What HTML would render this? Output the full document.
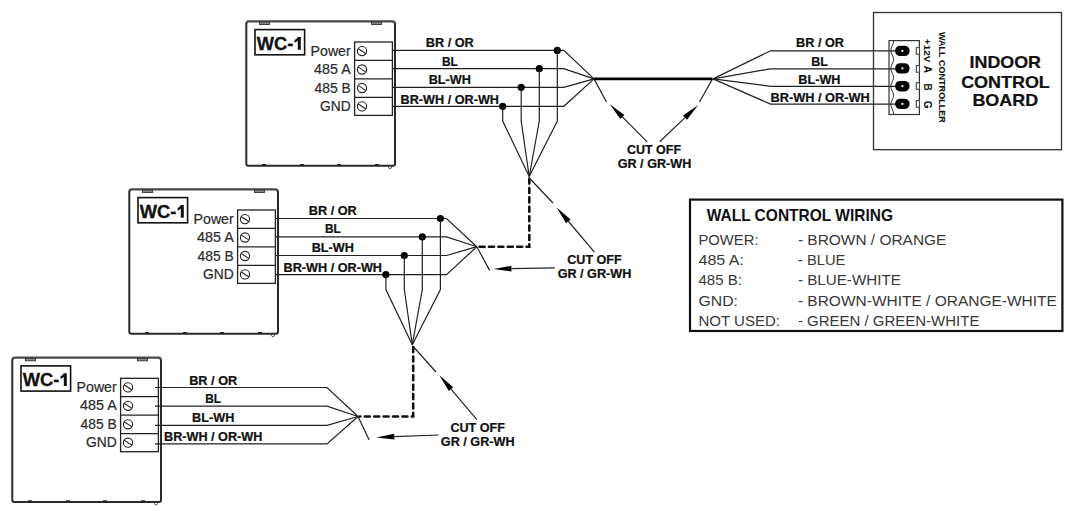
<!DOCTYPE html>
<html><head><meta charset="utf-8"><style>
html,body{margin:0;padding:0;background:#fff;width:1078px;height:511px;overflow:hidden}
svg{display:block}
text{font-family:"Liberation Sans",sans-serif}
</style></head><body>
<svg width="1078" height="511" viewBox="0 0 1078 511">
<g transform="translate(0,0)">
<path d="M246.3,24 Q246.3,21.3 249,21.3 L392.3,21.3 Q395,21.3 395,24" fill="none" stroke="#4a4a4a" stroke-width="2.3"/>
<path d="M246.3,23.5 L246.3,163.8 Q246.3,165.8 248.3,165.8 L393,165.8 Q395,165.8 395,163.8 L395,23.5" fill="none" stroke="#2a2a2a" stroke-width="2"/>
<rect x="259.4" y="22" width="10.2" height="2.5" fill="#888" stroke="#333" stroke-width="0.9"/>
<rect x="371.4" y="22" width="10.2" height="2.5" fill="#888" stroke="#333" stroke-width="0.9"/>
<rect x="262" y="164" width="4" height="2" fill="#222"/>
<rect x="300" y="164" width="4" height="2" fill="#222"/>
<rect x="337" y="164" width="4" height="2" fill="#222"/>
<rect x="375" y="164" width="4" height="2" fill="#222"/>
<circle cx="390" cy="167" r="1.6" fill="none" stroke="#333" stroke-width="0.8"/>
<rect x="255" y="29.6" width="49.6" height="25.2" fill="none" stroke="#111" stroke-width="1.6"/>
<text x="256.7" y="49.7" font-size="17.5" font-weight="bold" fill="#111" stroke="#111" stroke-width="0.3" textLength="36.6" lengthAdjust="spacingAndGlyphs">WC-</text>
<path d="M297.8,36.9 L300.8,36.9 L300.8,49.7 L297.8,49.7 L297.8,40.8 Q296.5,42 294.6,42.7 L294.6,40 Q297,38.9 297.8,36.9 Z" fill="#111"/>
<text x="350.7" y="55.9" font-size="14" fill="#2a2a2a" stroke="#2a2a2a" stroke-width="0.2" text-anchor="end" textLength="40.1" lengthAdjust="spacingAndGlyphs">Power</text>
<text x="350.7" y="73.6" font-size="14" fill="#2a2a2a" stroke="#2a2a2a" stroke-width="0.2" text-anchor="end" textLength="36.6" lengthAdjust="spacingAndGlyphs">485 A</text>
<text x="350.7" y="92.6" font-size="14" fill="#2a2a2a" stroke="#2a2a2a" stroke-width="0.2" text-anchor="end" textLength="36.1" lengthAdjust="spacingAndGlyphs">485 B</text>
<text x="350.7" y="110.6" font-size="14" fill="#2a2a2a" stroke="#2a2a2a" stroke-width="0.2" text-anchor="end" textLength="30.8" lengthAdjust="spacingAndGlyphs">GND</text>
<rect x="354.6" y="42" width="37.8" height="73.4" fill="none" stroke="#222" stroke-width="1.3"/>
<line x1="354.6" y1="60.3" x2="392.4" y2="60.3" stroke="#222" stroke-width="1.3"/>
<line x1="354.6" y1="78.8" x2="392.4" y2="78.8" stroke="#222" stroke-width="1.3"/>
<line x1="354.6" y1="97.3" x2="392.4" y2="97.3" stroke="#222" stroke-width="1.3"/>
<circle cx="362" cy="51.1" r="4.6" fill="none" stroke="#222" stroke-width="1.1"/>
<line x1="358" y1="48.5" x2="366" y2="53.7" stroke="#222" stroke-width="1.1"/>
<circle cx="362" cy="69.5" r="4.6" fill="none" stroke="#222" stroke-width="1.1"/>
<line x1="358" y1="66.9" x2="366" y2="72.1" stroke="#222" stroke-width="1.1"/>
<circle cx="362" cy="88" r="4.6" fill="none" stroke="#222" stroke-width="1.1"/>
<line x1="358" y1="85.4" x2="366" y2="90.6" stroke="#222" stroke-width="1.1"/>
<circle cx="362" cy="106.4" r="4.6" fill="none" stroke="#222" stroke-width="1.1"/>
<line x1="358" y1="103.80000000000001" x2="366" y2="109.0" stroke="#222" stroke-width="1.1"/>
</g>
<polyline points="392.4,50.4 563.8,50.4 594,78.9" fill="none" stroke="#222" stroke-width="1.2"/>
<polyline points="392.4,68.7 563.8,68.7 594,78.9" fill="none" stroke="#222" stroke-width="1.2"/>
<polyline points="392.4,87.3 563.8,87.3 594,78.9" fill="none" stroke="#222" stroke-width="1.2"/>
<polyline points="392.4,106.3 563.8,106.3 594,78.9" fill="none" stroke="#222" stroke-width="1.2"/>
<text x="449.8" y="46.8" font-size="12.2" font-weight="bold" fill="#111" stroke="#111" stroke-width="0.22" text-anchor="middle" textLength="48" lengthAdjust="spacingAndGlyphs">BR / OR</text>
<text x="449.8" y="65.9" font-size="12.2" font-weight="bold" fill="#111" stroke="#111" stroke-width="0.22" text-anchor="middle" textLength="15.8" lengthAdjust="spacingAndGlyphs">BL</text>
<text x="449.8" y="83.7" font-size="12.2" font-weight="bold" fill="#111" stroke="#111" stroke-width="0.22" text-anchor="middle" textLength="42.2" lengthAdjust="spacingAndGlyphs">BL-WH</text>
<text x="449.8" y="104.4" font-size="12.2" font-weight="bold" fill="#111" stroke="#111" stroke-width="0.22" text-anchor="middle" textLength="98.4" lengthAdjust="spacingAndGlyphs">BR-WH / OR-WH</text>
<circle cx="557.3" cy="50.4" r="3.6" fill="#000"/>
<polyline points="557.3,50.4 557.3,121 529.2,176.5" fill="none" stroke="#222" stroke-width="1.2"/>
<circle cx="539.3" cy="68.7" r="3.6" fill="#000"/>
<polyline points="539.3,68.7 539.3,121 529.2,176.5" fill="none" stroke="#222" stroke-width="1.2"/>
<circle cx="521.2" cy="87.3" r="3.6" fill="#000"/>
<polyline points="521.2,87.3 521.2,121 529.2,176.5" fill="none" stroke="#222" stroke-width="1.2"/>
<circle cx="502.7" cy="106.3" r="3.6" fill="#000"/>
<polyline points="502.7,106.3 502.7,121 529.2,176.5" fill="none" stroke="#222" stroke-width="1.2"/>
<line x1="594" y1="78.9" x2="606.5" y2="102" stroke="#222" stroke-width="1.2"/>
<g transform="translate(-117,168)">
<path d="M246.3,24 Q246.3,21.3 249,21.3 L392.3,21.3 Q395,21.3 395,24" fill="none" stroke="#4a4a4a" stroke-width="2.3"/>
<path d="M246.3,23.5 L246.3,163.8 Q246.3,165.8 248.3,165.8 L393,165.8 Q395,165.8 395,163.8 L395,23.5" fill="none" stroke="#2a2a2a" stroke-width="2"/>
<rect x="259.4" y="22" width="10.2" height="2.5" fill="#888" stroke="#333" stroke-width="0.9"/>
<rect x="371.4" y="22" width="10.2" height="2.5" fill="#888" stroke="#333" stroke-width="0.9"/>
<rect x="262" y="164" width="4" height="2" fill="#222"/>
<rect x="300" y="164" width="4" height="2" fill="#222"/>
<rect x="337" y="164" width="4" height="2" fill="#222"/>
<rect x="375" y="164" width="4" height="2" fill="#222"/>
<circle cx="390" cy="167" r="1.6" fill="none" stroke="#333" stroke-width="0.8"/>
<rect x="255" y="29.6" width="49.6" height="25.2" fill="none" stroke="#111" stroke-width="1.6"/>
<text x="256.7" y="49.7" font-size="17.5" font-weight="bold" fill="#111" stroke="#111" stroke-width="0.3" textLength="36.6" lengthAdjust="spacingAndGlyphs">WC-</text>
<path d="M297.8,36.9 L300.8,36.9 L300.8,49.7 L297.8,49.7 L297.8,40.8 Q296.5,42 294.6,42.7 L294.6,40 Q297,38.9 297.8,36.9 Z" fill="#111"/>
<text x="350.7" y="55.9" font-size="14" fill="#2a2a2a" stroke="#2a2a2a" stroke-width="0.2" text-anchor="end" textLength="40.1" lengthAdjust="spacingAndGlyphs">Power</text>
<text x="350.7" y="73.6" font-size="14" fill="#2a2a2a" stroke="#2a2a2a" stroke-width="0.2" text-anchor="end" textLength="36.6" lengthAdjust="spacingAndGlyphs">485 A</text>
<text x="350.7" y="92.6" font-size="14" fill="#2a2a2a" stroke="#2a2a2a" stroke-width="0.2" text-anchor="end" textLength="36.1" lengthAdjust="spacingAndGlyphs">485 B</text>
<text x="350.7" y="110.6" font-size="14" fill="#2a2a2a" stroke="#2a2a2a" stroke-width="0.2" text-anchor="end" textLength="30.8" lengthAdjust="spacingAndGlyphs">GND</text>
<rect x="354.6" y="42" width="37.8" height="73.4" fill="none" stroke="#222" stroke-width="1.3"/>
<line x1="354.6" y1="60.3" x2="392.4" y2="60.3" stroke="#222" stroke-width="1.3"/>
<line x1="354.6" y1="78.8" x2="392.4" y2="78.8" stroke="#222" stroke-width="1.3"/>
<line x1="354.6" y1="97.3" x2="392.4" y2="97.3" stroke="#222" stroke-width="1.3"/>
<circle cx="362" cy="51.1" r="4.6" fill="none" stroke="#222" stroke-width="1.1"/>
<line x1="358" y1="48.5" x2="366" y2="53.7" stroke="#222" stroke-width="1.1"/>
<circle cx="362" cy="69.5" r="4.6" fill="none" stroke="#222" stroke-width="1.1"/>
<line x1="358" y1="66.9" x2="366" y2="72.1" stroke="#222" stroke-width="1.1"/>
<circle cx="362" cy="88" r="4.6" fill="none" stroke="#222" stroke-width="1.1"/>
<line x1="358" y1="85.4" x2="366" y2="90.6" stroke="#222" stroke-width="1.1"/>
<circle cx="362" cy="106.4" r="4.6" fill="none" stroke="#222" stroke-width="1.1"/>
<line x1="358" y1="103.80000000000001" x2="366" y2="109.0" stroke="#222" stroke-width="1.1"/>
</g>
<polyline points="275.4,218.5 446.5,218.5 476.8,246.7" fill="none" stroke="#222" stroke-width="1.2"/>
<polyline points="275.4,236.9 446.5,236.9 476.8,246.7" fill="none" stroke="#222" stroke-width="1.2"/>
<polyline points="275.4,255.5 446.5,255.5 476.8,246.7" fill="none" stroke="#222" stroke-width="1.2"/>
<polyline points="275.4,274.6 446.5,274.6 476.8,246.7" fill="none" stroke="#222" stroke-width="1.2"/>
<text x="332.8" y="214.9" font-size="12.2" font-weight="bold" fill="#111" stroke="#111" stroke-width="0.22" text-anchor="middle" textLength="48" lengthAdjust="spacingAndGlyphs">BR / OR</text>
<text x="332.8" y="233.4" font-size="12.2" font-weight="bold" fill="#111" stroke="#111" stroke-width="0.22" text-anchor="middle" textLength="15.8" lengthAdjust="spacingAndGlyphs">BL</text>
<text x="332.8" y="252" font-size="12.2" font-weight="bold" fill="#111" stroke="#111" stroke-width="0.22" text-anchor="middle" textLength="42.2" lengthAdjust="spacingAndGlyphs">BL-WH</text>
<text x="332.8" y="272.2" font-size="12.2" font-weight="bold" fill="#111" stroke="#111" stroke-width="0.22" text-anchor="middle" textLength="98.4" lengthAdjust="spacingAndGlyphs">BR-WH / OR-WH</text>
<circle cx="440.4" cy="218.5" r="3.6" fill="#000"/>
<polyline points="440.4,218.5 440.4,289.5 412.3,344.7" fill="none" stroke="#222" stroke-width="1.2"/>
<circle cx="422.3" cy="236.9" r="3.6" fill="#000"/>
<polyline points="422.3,236.9 422.3,289.5 412.3,344.7" fill="none" stroke="#222" stroke-width="1.2"/>
<circle cx="404.3" cy="255.5" r="3.6" fill="#000"/>
<polyline points="404.3,255.5 404.3,289.5 412.3,344.7" fill="none" stroke="#222" stroke-width="1.2"/>
<circle cx="385.9" cy="274.6" r="3.6" fill="#000"/>
<polyline points="385.9,274.6 385.9,289.5 412.3,344.7" fill="none" stroke="#222" stroke-width="1.2"/>
<line x1="476.8" y1="246.7" x2="489.6" y2="270.4" stroke="#222" stroke-width="1.2"/>
<g transform="translate(-234,336.3)">
<path d="M246.3,24 Q246.3,21.3 249,21.3 L392.3,21.3 Q395,21.3 395,24" fill="none" stroke="#4a4a4a" stroke-width="2.3"/>
<path d="M246.3,23.5 L246.3,163.8 Q246.3,165.8 248.3,165.8 L393,165.8 Q395,165.8 395,163.8 L395,23.5" fill="none" stroke="#2a2a2a" stroke-width="2"/>
<rect x="259.4" y="22" width="10.2" height="2.5" fill="#888" stroke="#333" stroke-width="0.9"/>
<rect x="371.4" y="22" width="10.2" height="2.5" fill="#888" stroke="#333" stroke-width="0.9"/>
<rect x="262" y="164" width="4" height="2" fill="#222"/>
<rect x="300" y="164" width="4" height="2" fill="#222"/>
<rect x="337" y="164" width="4" height="2" fill="#222"/>
<rect x="375" y="164" width="4" height="2" fill="#222"/>
<circle cx="390" cy="167" r="1.6" fill="none" stroke="#333" stroke-width="0.8"/>
<rect x="255" y="29.6" width="49.6" height="25.2" fill="none" stroke="#111" stroke-width="1.6"/>
<text x="256.7" y="49.7" font-size="17.5" font-weight="bold" fill="#111" stroke="#111" stroke-width="0.3" textLength="36.6" lengthAdjust="spacingAndGlyphs">WC-</text>
<path d="M297.8,36.9 L300.8,36.9 L300.8,49.7 L297.8,49.7 L297.8,40.8 Q296.5,42 294.6,42.7 L294.6,40 Q297,38.9 297.8,36.9 Z" fill="#111"/>
<text x="350.7" y="55.9" font-size="14" fill="#2a2a2a" stroke="#2a2a2a" stroke-width="0.2" text-anchor="end" textLength="40.1" lengthAdjust="spacingAndGlyphs">Power</text>
<text x="350.7" y="73.6" font-size="14" fill="#2a2a2a" stroke="#2a2a2a" stroke-width="0.2" text-anchor="end" textLength="36.6" lengthAdjust="spacingAndGlyphs">485 A</text>
<text x="350.7" y="92.6" font-size="14" fill="#2a2a2a" stroke="#2a2a2a" stroke-width="0.2" text-anchor="end" textLength="36.1" lengthAdjust="spacingAndGlyphs">485 B</text>
<text x="350.7" y="110.6" font-size="14" fill="#2a2a2a" stroke="#2a2a2a" stroke-width="0.2" text-anchor="end" textLength="30.8" lengthAdjust="spacingAndGlyphs">GND</text>
<rect x="354.6" y="42" width="37.8" height="73.4" fill="none" stroke="#222" stroke-width="1.3"/>
<line x1="354.6" y1="60.3" x2="392.4" y2="60.3" stroke="#222" stroke-width="1.3"/>
<line x1="354.6" y1="78.8" x2="392.4" y2="78.8" stroke="#222" stroke-width="1.3"/>
<line x1="354.6" y1="97.3" x2="392.4" y2="97.3" stroke="#222" stroke-width="1.3"/>
<circle cx="362" cy="51.1" r="4.6" fill="none" stroke="#222" stroke-width="1.1"/>
<line x1="358" y1="48.5" x2="366" y2="53.7" stroke="#222" stroke-width="1.1"/>
<circle cx="362" cy="69.5" r="4.6" fill="none" stroke="#222" stroke-width="1.1"/>
<line x1="358" y1="66.9" x2="366" y2="72.1" stroke="#222" stroke-width="1.1"/>
<circle cx="362" cy="88" r="4.6" fill="none" stroke="#222" stroke-width="1.1"/>
<line x1="358" y1="85.4" x2="366" y2="90.6" stroke="#222" stroke-width="1.1"/>
<circle cx="362" cy="106.4" r="4.6" fill="none" stroke="#222" stroke-width="1.1"/>
<line x1="358" y1="103.80000000000001" x2="366" y2="109.0" stroke="#222" stroke-width="1.1"/>
</g>
<polyline points="155,387.5 327,387.5 358,416.5" fill="none" stroke="#222" stroke-width="1.2"/>
<polyline points="155,406.2 327,406.2 358,416.5" fill="none" stroke="#222" stroke-width="1.2"/>
<polyline points="155,425.3 327,425.3 358,416.5" fill="none" stroke="#222" stroke-width="1.2"/>
<polyline points="155,443.9 327,443.9 358,416.5" fill="none" stroke="#222" stroke-width="1.2"/>
<text x="213.2" y="384.5" font-size="12.2" font-weight="bold" fill="#111" stroke="#111" stroke-width="0.22" text-anchor="middle" textLength="48" lengthAdjust="spacingAndGlyphs">BR / OR</text>
<text x="213.2" y="403" font-size="12.2" font-weight="bold" fill="#111" stroke="#111" stroke-width="0.22" text-anchor="middle" textLength="15.8" lengthAdjust="spacingAndGlyphs">BL</text>
<text x="213.2" y="421.8" font-size="12.2" font-weight="bold" fill="#111" stroke="#111" stroke-width="0.22" text-anchor="middle" textLength="42.2" lengthAdjust="spacingAndGlyphs">BL-WH</text>
<text x="213.2" y="441.2" font-size="12.2" font-weight="bold" fill="#111" stroke="#111" stroke-width="0.22" text-anchor="middle" textLength="98.4" lengthAdjust="spacingAndGlyphs">BR-WH / OR-WH</text>
<line x1="358" y1="416.5" x2="369.2" y2="440" stroke="#222" stroke-width="1.2"/>
<polyline points="529.3,178.6 529.3,246.7 478.3,246.7" fill="none" stroke="#111" stroke-width="2.6" stroke-linecap="round" stroke-dasharray="5,4.4"/>
<line x1="554.8" y1="267.9" x2="511.40" y2="268.68" stroke="#222" stroke-width="1.2"/><polygon points="493.4,269 511.35,265.78 511.45,271.58" fill="#000"/>
<line x1="529.3" y1="178" x2="553" y2="203" stroke="#222" stroke-width="1.2"/>
<line x1="594.4" y1="252.2" x2="568.30" y2="221.26" stroke="#222" stroke-width="1.2"/><polygon points="556.7,207.5 570.52,219.39 566.09,223.13" fill="#000"/>
<text x="594.5" y="263.8" font-size="12.2" font-weight="bold" fill="#111" stroke="#111" stroke-width="0.22" text-anchor="middle" textLength="54.5" lengthAdjust="spacingAndGlyphs">CUT OFF</text>
<text x="594.5" y="277.6" font-size="12.2" font-weight="bold" fill="#111" stroke="#111" stroke-width="0.22" text-anchor="middle" textLength="73.7" lengthAdjust="spacingAndGlyphs">GR / GR-WH</text>
<polyline points="413.2,347.1 413.2,416.5 359.5,416.5" fill="none" stroke="#111" stroke-width="2.6" stroke-linecap="round" stroke-dasharray="5,4.4"/>
<line x1="438.7" y1="435" x2="394.29" y2="436.71" stroke="#222" stroke-width="1.2"/><polygon points="376.3,437.4 394.18,433.81 394.40,439.61" fill="#000"/>
<line x1="413.2" y1="346.5" x2="436" y2="372" stroke="#222" stroke-width="1.2"/>
<line x1="476.8" y1="419.6" x2="451.01" y2="389.05" stroke="#222" stroke-width="1.2"/><polygon points="439.4,375.3 453.23,387.18 448.80,390.92" fill="#000"/>
<text x="477.7" y="431.8" font-size="12.2" font-weight="bold" fill="#111" stroke="#111" stroke-width="0.22" text-anchor="middle" textLength="54.5" lengthAdjust="spacingAndGlyphs">CUT OFF</text>
<text x="477.7" y="445.8" font-size="12.2" font-weight="bold" fill="#111" stroke="#111" stroke-width="0.22" text-anchor="middle" textLength="73.7" lengthAdjust="spacingAndGlyphs">GR / GR-WH</text>
<line x1="594" y1="78.9" x2="712.5" y2="78.9" stroke="#000" stroke-width="2.8"/>
<line x1="712.5" y1="78.9" x2="699.5" y2="102" stroke="#222" stroke-width="1.2"/>
<line x1="647.2" y1="141.8" x2="622.41" y2="116.94" stroke="#222" stroke-width="1.2"/><polygon points="609.7,104.2 624.46,114.90 620.36,118.99" fill="#000"/>
<line x1="659.7" y1="141.8" x2="684.99" y2="117.64" stroke="#222" stroke-width="1.2"/><polygon points="698,105.2 686.99,119.73 682.98,115.54" fill="#000"/>
<text x="654" y="154" font-size="12.2" font-weight="bold" fill="#111" stroke="#111" stroke-width="0.22" text-anchor="middle" textLength="54.2" lengthAdjust="spacingAndGlyphs">CUT OFF</text>
<text x="654.5" y="167.7" font-size="12.2" font-weight="bold" fill="#111" stroke="#111" stroke-width="0.22" text-anchor="middle" textLength="73.6" lengthAdjust="spacingAndGlyphs">GR / GR-WH</text>
<polyline points="713,78.9 770.5,50.8 897,50.8" fill="none" stroke="#222" stroke-width="1.2"/>
<polyline points="713,78.9 770.5,68.8 897,68.8" fill="none" stroke="#222" stroke-width="1.2"/>
<polyline points="713,78.9 770.5,86.3 897,86.3" fill="none" stroke="#222" stroke-width="1.2"/>
<polyline points="713,78.9 770.5,104.1 897,104.1" fill="none" stroke="#222" stroke-width="1.2"/>
<text x="820" y="46.7" font-size="12.2" font-weight="bold" fill="#111" stroke="#111" stroke-width="0.22" text-anchor="middle" textLength="47.8" lengthAdjust="spacingAndGlyphs">BR / OR</text>
<text x="819.6" y="66" font-size="12.2" font-weight="bold" fill="#111" stroke="#111" stroke-width="0.22" text-anchor="middle" textLength="16.7" lengthAdjust="spacingAndGlyphs">BL</text>
<text x="819.4" y="84.2" font-size="12.2" font-weight="bold" fill="#111" stroke="#111" stroke-width="0.22" text-anchor="middle" textLength="42.1" lengthAdjust="spacingAndGlyphs">BL-WH</text>
<text x="820.1" y="102.2" font-size="12.2" font-weight="bold" fill="#111" stroke="#111" stroke-width="0.22" text-anchor="middle" textLength="99.3" lengthAdjust="spacingAndGlyphs">BR-WH / OR-WH</text>
<rect x="873.5" y="12.5" width="188" height="137.2" fill="none" stroke="#333" stroke-width="1.3"/>
<rect x="889" y="40.6" width="30.4" height="73.9" fill="none" stroke="#333" stroke-width="1.2"/>
<path d="M893.6,41 C893.6,45 890.8,47 890.8,50.5 C890.8,54 893.6,56 893.6,59.5 C893.6,63 890.8,65 890.8,68.8 C890.8,72 893.6,74 893.6,77.5 C893.6,81 890.8,83 890.8,86.3 C890.8,90 893.6,92 893.6,95.2 C893.6,99 890.8,101 890.8,104.1 C890.8,108 893.6,110 893.6,114" fill="none" stroke="#222" stroke-width="0.9"/>
<rect x="895.2" y="45.699999999999996" width="14.3" height="10.4" rx="5" ry="4.6" fill="#000"/>
<circle cx="902.4" cy="50.9" r="1.1" fill="#fff"/>
<rect x="895.2" y="63.2" width="14.3" height="10.4" rx="5" ry="4.6" fill="#000"/>
<circle cx="902.4" cy="68.4" r="1.1" fill="#fff"/>
<rect x="895.2" y="81.0" width="14.3" height="10.4" rx="5" ry="4.6" fill="#000"/>
<circle cx="902.4" cy="86.2" r="1.1" fill="#fff"/>
<rect x="895.2" y="98.7" width="14.3" height="10.4" rx="5" ry="4.6" fill="#000"/>
<circle cx="902.4" cy="103.9" r="1.1" fill="#fff"/>
<text transform="translate(923.6,38.8) rotate(90)" font-size="9.6" font-weight="bold" fill="#111" textLength="23.6" lengthAdjust="spacingAndGlyphs">+12V</text>
<rect x="916.3" y="47.6" width="3.2" height="6.6" fill="#fff" stroke="#444" stroke-width="1.1"/>
<rect x="916.3" y="65.60000000000001" width="3.2" height="6.6" fill="#fff" stroke="#444" stroke-width="1.1"/>
<rect x="916.3" y="82.7" width="3.2" height="6.6" fill="#fff" stroke="#444" stroke-width="1.1"/>
<rect x="916.3" y="100.60000000000001" width="3.2" height="6.6" fill="#fff" stroke="#444" stroke-width="1.1"/>
<text transform="translate(923.8,65.7) rotate(90)" font-size="10" font-weight="bold" fill="#111">A</text>
<text transform="translate(923.8,83.6) rotate(90)" font-size="10" font-weight="bold" fill="#111">B</text>
<text transform="translate(923.8,100.7) rotate(90)" font-size="10" font-weight="bold" fill="#111">G</text>
<text transform="translate(939.2,31.9) rotate(90)" font-size="9.6" font-weight="bold" fill="#111" textLength="91" lengthAdjust="spacingAndGlyphs">WALL CONTROLLER</text>
<text x="1005.3" y="67.9" font-size="16.9" font-weight="bold" fill="#111" stroke="#111" stroke-width="0.22" text-anchor="middle" textLength="71.4" lengthAdjust="spacingAndGlyphs">INDOOR</text>
<text x="1005.5" y="87.6" font-size="16.9" font-weight="bold" fill="#111" stroke="#111" stroke-width="0.22" text-anchor="middle" textLength="88.7" lengthAdjust="spacingAndGlyphs">CONTROL</text>
<text x="1005.3" y="106.2" font-size="16.9" font-weight="bold" fill="#111" stroke="#111" stroke-width="0.22" text-anchor="middle" textLength="65.8" lengthAdjust="spacingAndGlyphs">BOARD</text>
<rect x="690" y="199.6" width="372.4" height="131.4" fill="none" stroke="#111" stroke-width="2.2"/>
<text x="706.7" y="220.6" font-size="16.4" font-weight="bold" fill="#111" textLength="186.3" lengthAdjust="spacingAndGlyphs">WALL CONTROL WIRING</text>
<text x="698.5" y="245" font-size="15.4" fill="#383838" textLength="60" lengthAdjust="spacingAndGlyphs">POWER:</text>
<text x="797.9" y="245" font-size="15.4" fill="#383838" textLength="148.5" lengthAdjust="spacingAndGlyphs">- BROWN / ORANGE</text>
<text x="698.5" y="265.2" font-size="15.4" fill="#383838" textLength="45.5" lengthAdjust="spacingAndGlyphs">485 A:</text>
<text x="797.9" y="265.2" font-size="15.4" fill="#383838" textLength="47.5" lengthAdjust="spacingAndGlyphs">- BLUE</text>
<text x="698.5" y="285.4" font-size="15.4" fill="#383838" textLength="43.5" lengthAdjust="spacingAndGlyphs">485 B:</text>
<text x="797.9" y="285.4" font-size="15.4" fill="#383838" textLength="103" lengthAdjust="spacingAndGlyphs">- BLUE-WHITE</text>
<text x="698.5" y="305.7" font-size="15.4" fill="#383838" textLength="39.5" lengthAdjust="spacingAndGlyphs">GND:</text>
<text x="797.9" y="305.7" font-size="15.4" fill="#383838" textLength="259" lengthAdjust="spacingAndGlyphs">- BROWN-WHITE / ORANGE-WHITE</text>
<text x="698.5" y="326.2" font-size="15.4" fill="#383838" textLength="81.5" lengthAdjust="spacingAndGlyphs">NOT USED:</text>
<text x="797.9" y="326.2" font-size="15.4" fill="#383838" textLength="181.5" lengthAdjust="spacingAndGlyphs">- GREEN / GREEN-WHITE</text>
</svg>
</body></html>
